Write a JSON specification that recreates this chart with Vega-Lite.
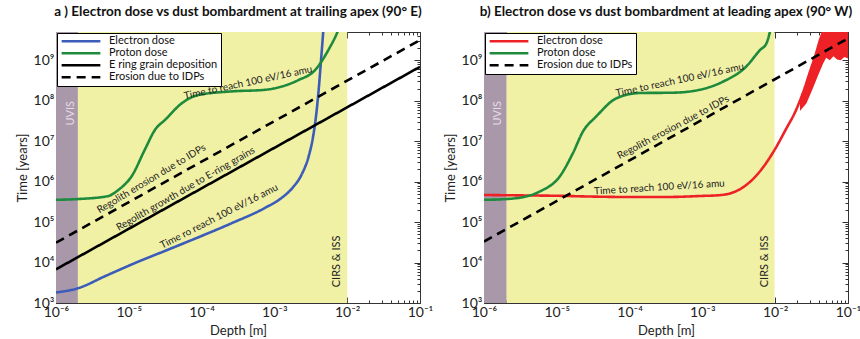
{
  "$schema": "https://vega.github.io/schema/vega-lite/v6.json",
  "background": "white",
  "padding": {"left": 16, "right": 5, "top": 4, "bottom": 2},
  "config": {
    "view": {"stroke": null},
    "axis": {"grid": false, "domainColor": "#333", "tickColor": "#333", "labelColor": "#222", "titleColor": "#222", "labelFont": "Lato", "titleFont": "Lato", "labelFontSize": 14, "titleFontSize": 13, "titleFontWeight": "normal", "labelOverlap": false, "labelFlush": false},
    "legend": {"fillColor": "white", "strokeColor": "black", "padding": 3, "labelFont": "Lato", "labelFontSize": 11, "symbolType": "stroke", "symbolSize": 1500, "symbolStrokeWidth": 2.5, "rowPadding": 0, "clipHeight": 10.5, "offset": 1, "labelLimit": 300, "labelColor": "#111", "labelOffset": 7},
    "title": {"font": "Lato", "fontSize": 13.5, "fontWeight": "bold", "anchor": "middle", "offset": 7, "color": "#111"},
    "text": {"font": "Lato"}
  },
  "datasets": {
    "leftLines": [
      {"series": "Electron dose", "x": 1e-6, "y": 1820},
      {"series": "Electron dose", "x": 2.04e-6, "y": 2340},
      {"series": "Electron dose", "x": 4.68e-6, "y": 4570},
      {"series": "Electron dose", "x": 1.23e-5, "y": 9800},
      {"series": "Electron dose", "x": 3.16e-5, "y": 19500},
      {"series": "Electron dose", "x": 8.91e-5, "y": 41700},
      {"series": "Electron dose", "x": 2.57e-4, "y": 93300},
      {"series": "Electron dose", "x": 7.41e-4, "y": 224000},
      {"series": "Electron dose", "x": 1.26e-3, "y": 398000},
      {"series": "Electron dose", "x": 1.78e-3, "y": 708000},
      {"series": "Electron dose", "x": 2.40e-3, "y": 1580000},
      {"series": "Electron dose", "x": 2.95e-3, "y": 4170000},
      {"series": "Electron dose", "x": 3.39e-3, "y": 12600000},
      {"series": "Electron dose", "x": 3.72e-3, "y": 39800000},
      {"series": "Electron dose", "x": 4.07e-3, "y": 200000000},
      {"series": "Electron dose", "x": 4.37e-3, "y": 1000000000},
      {"series": "Electron dose", "x": 4.68e-3, "y": 5000000000},
      {"series": "Electron dose", "x": 4.9e-3, "y": 16000000000},
      {"series": "Proton dose", "x": 1e-6, "y": 355000},
      {"series": "Proton dose", "x": 2.04e-6, "y": 372000},
      {"series": "Proton dose", "x": 5.13e-6, "y": 437000},
      {"series": "Proton dose", "x": 7.24e-6, "y": 631000},
      {"series": "Proton dose", "x": 1.10e-5, "y": 1380000},
      {"series": "Proton dose", "x": 1.66e-5, "y": 6170000},
      {"series": "Proton dose", "x": 2.29e-5, "y": 19100000},
      {"series": "Proton dose", "x": 3.16e-5, "y": 33900000},
      {"series": "Proton dose", "x": 5.37e-5, "y": 87100000},
      {"series": "Proton dose", "x": 8.91e-5, "y": 138000000},
      {"series": "Proton dose", "x": 2.57e-4, "y": 170000000},
      {"series": "Proton dose", "x": 7.41e-4, "y": 186000000},
      {"series": "Proton dose", "x": 1.26e-3, "y": 224000000},
      {"series": "Proton dose", "x": 2.14e-3, "y": 324000000},
      {"series": "Proton dose", "x": 3.63e-3, "y": 575000000},
      {"series": "Proton dose", "x": 5.50e-3, "y": 1780000000},
      {"series": "Proton dose", "x": 7.24e-3, "y": 4680000000},
      {"series": "Proton dose", "x": 8.9e-3, "y": 12000000000},
      {"series": "E ring grain deposition", "x": 1e-6, "y": 6800},
      {"series": "E ring grain deposition", "x": 0.1, "y": 690000000},
      {"series": "Erosion due to IDPs", "x": 1e-6, "y": 31000},
      {"series": "Erosion due to IDPs", "x": 0.1, "y": 3150000000}
    ],
    "rightLines": [
      {"series": "Electron dose", "x": 1e-6, "y": 468000},
      {"series": "Electron dose", "x": 3.16e-6, "y": 457000},
      {"series": "Electron dose", "x": 1e-5, "y": 447000},
      {"series": "Electron dose", "x": 3.16e-5, "y": 427000},
      {"series": "Electron dose", "x": 1e-4, "y": 417000},
      {"series": "Electron dose", "x": 3.16e-4, "y": 417000},
      {"series": "Electron dose", "x": 1.12e-3, "y": 447000},
      {"series": "Electron dose", "x": 1.58e-3, "y": 457000},
      {"series": "Electron dose", "x": 2.51e-3, "y": 525000},
      {"series": "Electron dose", "x": 3.55e-3, "y": 708000},
      {"series": "Electron dose", "x": 5.50e-3, "y": 1410000},
      {"series": "Electron dose", "x": 9.33e-3, "y": 5250000},
      {"series": "Electron dose", "x": 1.41e-2, "y": 20000000},
      {"series": "Electron dose", "x": 1.91e-2, "y": 56200000},
      {"series": "Electron dose", "x": 2.40e-2, "y": 155000000},
      {"series": "Electron dose", "x": 3.31e-2, "y": 851000000},
      {"series": "Electron dose", "x": 3.80e-2, "y": 1580000000},
      {"series": "Proton dose", "x": 1e-6, "y": 355000},
      {"series": "Proton dose", "x": 2.04e-6, "y": 372000},
      {"series": "Proton dose", "x": 4.0e-6, "y": 440000},
      {"series": "Proton dose", "x": 5.89e-6, "y": 575000},
      {"series": "Proton dose", "x": 1.10e-5, "y": 1350000},
      {"series": "Proton dose", "x": 1.66e-5, "y": 5010000},
      {"series": "Proton dose", "x": 2.29e-5, "y": 17400000},
      {"series": "Proton dose", "x": 3.47e-5, "y": 40700000},
      {"series": "Proton dose", "x": 6.61e-5, "y": 115000000},
      {"series": "Proton dose", "x": 1.38e-4, "y": 155000000},
      {"series": "Proton dose", "x": 3.98e-4, "y": 158000000},
      {"series": "Proton dose", "x": 9.12e-4, "y": 186000000},
      {"series": "Proton dose", "x": 1.91e-3, "y": 295000000},
      {"series": "Proton dose", "x": 3.98e-3, "y": 692000000},
      {"series": "Proton dose", "x": 6.17e-3, "y": 1780000000},
      {"series": "Proton dose", "x": 7.59e-3, "y": 2630000000},
      {"series": "Proton dose", "x": 8.7e-3, "y": 6000000000},
      {"series": "Proton dose", "x": 1e-2, "y": 15000000000},
      {"series": "Erosion due to IDPs", "x": 1e-6, "y": 33000},
      {"series": "Erosion due to IDPs", "x": 0.1, "y": 3470000000}
    ],
    "redBand": [
      {"x": 0.0219, "lo": 56000000, "hi": 100000000},
      {"x": 0.0269, "lo": 87000000, "hi": 310000000},
      {"x": 0.0324, "lo": 190000000, "hi": 930000000},
      {"x": 0.0398, "lo": 470000000, "hi": 3300000000},
      {"x": 0.0457, "lo": 850000000, "hi": 6300000000},
      {"x": 0.0501, "lo": 1150000000, "hi": 6300000000},
      {"x": 0.0562, "lo": 1000000000, "hi": 6300000000},
      {"x": 0.0631, "lo": 1260000000, "hi": 6300000000},
      {"x": 0.0708, "lo": 1050000000, "hi": 6300000000},
      {"x": 0.0794, "lo": 1000000000, "hi": 6300000000},
      {"x": 0.0891, "lo": 1200000000, "hi": 6300000000},
      {"x": 0.1, "lo": 1100000000, "hi": 6300000000}
    ]
  },
  "spacing": 11,
  "hconcat": [
    {
      "width": 364,
      "height": 271,
      "title": "a ) Electron dose vs dust bombardment at trailing apex (90° E)",
      "resolve": {"axis": {"x": "independent", "y": "independent"}},
      "layer": [
        {
          "data": {"values": [{"x0": 1e-6, "x1": 2e-6}]},
          "mark": {"type": "rect", "color": "#a898a9"},
          "encoding": {
            "x": {"field": "x0", "type": "quantitative", "scale": {"type": "log", "domain": [1e-6, 0.1], "nice": false},
              "axis": {"orient": "top", "labels": false, "title": null, "values": [1e-6,2e-6,3e-6,4e-6,5e-6,6e-6,7e-6,8e-6,9e-6,1e-5,2e-5,3e-5,4e-5,5e-5,6e-5,7e-5,8e-5,9e-5,1e-4,2e-4,3e-4,4e-4,5e-4,6e-4,7e-4,8e-4,9e-4,1e-3,2e-3,3e-3,4e-3,5e-3,6e-3,7e-3,8e-3,9e-3,1e-2,2e-2,3e-2,4e-2,5e-2,6e-2,7e-2,8e-2,9e-2,0.1],
                "tickSize": {"condition": {"test": "abs(log(datum.value)/LN10 - round(log(datum.value)/LN10)) < 0.01", "value": -6}, "value": -3}}},
            "x2": {"field": "x1"}
          }
        },
        {
          "data": {"values": [{"x0": 2e-6, "x1": 0.01}]},
          "mark": {"type": "rect", "color": "#f1f1a6"},
          "encoding": {
            "x": {"field": "x0", "type": "quantitative", "scale": {"type": "log", "domain": [1e-6, 0.1], "nice": false}, "axis": null},
            "x2": {"field": "x1"}
          }
        },
        {
          "data": {"name": "leftLines"},
          "mark": {"type": "line", "strokeWidth": 2.6, "clip": true, "strokeCap": "butt", "interpolate": "monotone"},
          "encoding": {
            "x": {"field": "x", "type": "quantitative", "scale": {"type": "log", "domain": [1e-6, 0.1], "nice": false},
              "axis": {"orient": "bottom", "title": "Depth [m]", "titlePadding": 2, "labelPadding": 8, "values": [1e-6,2e-6,3e-6,4e-6,5e-6,6e-6,7e-6,8e-6,9e-6,1e-5,2e-5,3e-5,4e-5,5e-5,6e-5,7e-5,8e-5,9e-5,1e-4,2e-4,3e-4,4e-4,5e-4,6e-4,7e-4,8e-4,9e-4,1e-3,2e-3,3e-3,4e-3,5e-3,6e-3,7e-3,8e-3,9e-3,1e-2,2e-2,3e-2,4e-2,5e-2,6e-2,7e-2,8e-2,9e-2,0.1],
                "labelExpr": "abs(log(datum.value)/LN10 - round(log(datum.value)/LN10)) < 0.01 ? '10' + replace(replace(replace(replace(replace(replace(replace(replace(replace(replace(replace('' + round(log(datum.value)/LN10), '-', '⁻'), '0', '⁰'), '1', '¹'), '2', '²'), '3', '³'), '4', '⁴'), '5', '⁵'), '6', '⁶'), '7', '⁷'), '8', '⁸'), '9', '⁹') : ''",
                "tickSize": {"condition": {"test": "abs(log(datum.value)/LN10 - round(log(datum.value)/LN10)) < 0.01", "value": -6}, "value": -3}}},
            "y": {"field": "y", "type": "quantitative", "scale": {"type": "log", "domain": [1000, 5000000000], "nice": false},
              "axis": {"orient": "left", "title": "Time [years]", "titlePadding": 4, "labelPadding": 8, "values": [1000,2000,3000,4000,5000,6000,7000,8000,9000,10000,20000,30000,40000,50000,60000,70000,80000,90000,100000,200000,300000,400000,500000,600000,700000,800000,900000,1000000,2000000,3000000,4000000,5000000,6000000,7000000,8000000,9000000,10000000,20000000,30000000,40000000,50000000,60000000,70000000,80000000,90000000,100000000,200000000,300000000,400000000,500000000,600000000,700000000,800000000,900000000,1000000000,2000000000,3000000000,4000000000,5000000000],
                "labelExpr": "abs(log(datum.value)/LN10 - round(log(datum.value)/LN10)) < 0.01 ? '10' + replace(replace(replace(replace(replace(replace(replace(replace(replace(replace(replace('' + round(log(datum.value)/LN10), '-', '⁻'), '0', '⁰'), '1', '¹'), '2', '²'), '3', '³'), '4', '⁴'), '5', '⁵'), '6', '⁶'), '7', '⁷'), '8', '⁸'), '9', '⁹') : ''",
                "tickSize": {"condition": {"test": "abs(log(datum.value)/LN10 - round(log(datum.value)/LN10)) < 0.01", "value": -6}, "value": -3}}},
            "color": {"field": "series", "type": "nominal",
              "scale": {"domain": ["Electron dose", "Proton dose", "E ring grain deposition", "Erosion due to IDPs"], "range": ["#3b5cb8", "#1e8a3c", "#000000", "#000000"]},
              "legend": {"orient": "top-left", "title": null}},
            "strokeDash": {"field": "series", "type": "nominal",
              "scale": {"domain": ["Electron dose", "Proton dose", "E ring grain deposition", "Erosion due to IDPs"], "range": [[1, 0], [1, 0], [1, 0], [9, 6]]},
              "legend": {"orient": "top-left", "title": null}}
          }
        },
        {
          "data": {"values": [{"x": 4.37e-4, "y": 280000000, "label": "Time to reach 100 eV/16 amu"}]},
          "mark": {"type": "text", "angle": -12, "fontSize": 10, "color": "#222"},
          "encoding": {
            "x": {"field": "x", "type": "quantitative", "scale": {"type": "log", "domain": [1e-6, 0.1], "nice": false}, "axis": null},
            "y": {"field": "y", "type": "quantitative", "scale": {"type": "log", "domain": [1000, 5000000000], "nice": false},
              "axis": {"orient": "right", "labels": false, "title": null, "values": [1000,2000,3000,4000,5000,6000,7000,8000,9000,10000,20000,30000,40000,50000,60000,70000,80000,90000,100000,200000,300000,400000,500000,600000,700000,800000,900000,1000000,2000000,3000000,4000000,5000000,6000000,7000000,8000000,9000000,10000000,20000000,30000000,40000000,50000000,60000000,70000000,80000000,90000000,100000000,200000000,300000000,400000000,500000000,600000000,700000000,800000000,900000000,1000000000,2000000000,3000000000,4000000000,5000000000],
                "tickSize": {"condition": {"test": "abs(log(datum.value)/LN10 - round(log(datum.value)/LN10)) < 0.01", "value": -6}, "value": -3}}},
            "text": {"field": "label"}
          }
        },
        {
          "data": {"values": [{"x": 2.04e-5, "y": 1170000, "label": "Regolith erosion due to IDPs"}]},
          "mark": {"type": "text", "angle": -31, "fontSize": 10, "color": "#222"},
          "encoding": {
            "x": {"field": "x", "type": "quantitative", "scale": {"type": "log", "domain": [1e-6, 0.1], "nice": false}, "axis": null},
            "y": {"field": "y", "type": "quantitative", "scale": {"type": "log", "domain": [1000, 5000000000], "nice": false}, "axis": null},
            "text": {"field": "label"}
          }
        },
        {
          "data": {"values": [{"x": 6.03e-5, "y": 660000, "label": "Regolith growth due to E-ring grains"}]},
          "mark": {"type": "text", "angle": -30, "fontSize": 10, "color": "#222"},
          "encoding": {
            "x": {"field": "x", "type": "quantitative", "scale": {"type": "log", "domain": [1e-6, 0.1], "nice": false}, "axis": null},
            "y": {"field": "y", "type": "quantitative", "scale": {"type": "log", "domain": [1000, 5000000000], "nice": false}, "axis": null},
            "text": {"field": "label"}
          }
        },
        {
          "data": {"values": [{"x": 1.74e-4, "y": 138000, "label": "Time ro reach 100 eV/16 amu"}]},
          "mark": {"type": "text", "angle": -27, "fontSize": 10, "color": "#222"},
          "encoding": {
            "x": {"field": "x", "type": "quantitative", "scale": {"type": "log", "domain": [1e-6, 0.1], "nice": false}, "axis": null},
            "y": {"field": "y", "type": "quantitative", "scale": {"type": "log", "domain": [1000, 5000000000], "nice": false}, "axis": null},
            "text": {"field": "label"}
          }
        },
        {
          "data": {"values": [{"x": 1.62e-6, "y": 49000000, "label": "UVIS"}]},
          "mark": {"type": "text", "angle": -90, "fontSize": 11, "color": "#e6d8e6"},
          "encoding": {
            "x": {"field": "x", "type": "quantitative", "scale": {"type": "log", "domain": [1e-6, 0.1], "nice": false}, "axis": null},
            "y": {"field": "y", "type": "quantitative", "scale": {"type": "log", "domain": [1000, 5000000000], "nice": false}, "axis": null},
            "text": {"field": "label"}
          }
        },
        {
          "data": {"values": [{"x": 7.24e-3, "y": 10700, "label": "CIRS & ISS"}]},
          "mark": {"type": "text", "angle": -90, "fontSize": 11, "color": "#222"},
          "encoding": {
            "x": {"field": "x", "type": "quantitative", "scale": {"type": "log", "domain": [1e-6, 0.1], "nice": false}, "axis": null},
            "y": {"field": "y", "type": "quantitative", "scale": {"type": "log", "domain": [1000, 5000000000], "nice": false}, "axis": null},
            "text": {"field": "label"}
          }
        }
      ]
    },
    {
      "width": 364,
      "height": 271,
      "title": "b) Electron dose vs dust bombardment at leading apex (90° W)",
      "resolve": {"axis": {"x": "independent", "y": "independent"}},
      "layer": [
        {
          "data": {"values": [{"x0": 1e-6, "x1": 2.05e-6}]},
          "mark": {"type": "rect", "color": "#a898a9"},
          "encoding": {
            "x": {"field": "x0", "type": "quantitative", "scale": {"type": "log", "domain": [1e-6, 0.1], "nice": false},
              "axis": {"orient": "top", "labels": false, "title": null, "values": [1e-6,2e-6,3e-6,4e-6,5e-6,6e-6,7e-6,8e-6,9e-6,1e-5,2e-5,3e-5,4e-5,5e-5,6e-5,7e-5,8e-5,9e-5,1e-4,2e-4,3e-4,4e-4,5e-4,6e-4,7e-4,8e-4,9e-4,1e-3,2e-3,3e-3,4e-3,5e-3,6e-3,7e-3,8e-3,9e-3,1e-2,2e-2,3e-2,4e-2,5e-2,6e-2,7e-2,8e-2,9e-2,0.1],
                "tickSize": {"condition": {"test": "abs(log(datum.value)/LN10 - round(log(datum.value)/LN10)) < 0.01", "value": -6}, "value": -3}}},
            "x2": {"field": "x1"}
          }
        },
        {
          "data": {"values": [{"x0": 2.05e-6, "x1": 0.0098}]},
          "mark": {"type": "rect", "color": "#f1f1a6"},
          "encoding": {
            "x": {"field": "x0", "type": "quantitative", "scale": {"type": "log", "domain": [1e-6, 0.1], "nice": false}, "axis": null},
            "x2": {"field": "x1"}
          }
        },
        {
          "data": {"name": "redBand"},
          "mark": {"type": "area", "color": "#ee2226", "clip": true},
          "encoding": {
            "x": {"field": "x", "type": "quantitative", "scale": {"type": "log", "domain": [1e-6, 0.1], "nice": false}, "axis": null},
            "y": {"field": "lo", "type": "quantitative", "scale": {"type": "log", "domain": [1000, 5000000000], "nice": false}, "axis": null},
            "y2": {"field": "hi"}
          }
        },
        {
          "data": {"name": "rightLines"},
          "mark": {"type": "line", "strokeWidth": 2.6, "clip": true, "strokeCap": "butt", "interpolate": "monotone"},
          "encoding": {
            "x": {"field": "x", "type": "quantitative", "scale": {"type": "log", "domain": [1e-6, 0.1], "nice": false},
              "axis": {"orient": "bottom", "title": "Depth [m]", "titlePadding": 2, "labelPadding": 8, "values": [1e-6,2e-6,3e-6,4e-6,5e-6,6e-6,7e-6,8e-6,9e-6,1e-5,2e-5,3e-5,4e-5,5e-5,6e-5,7e-5,8e-5,9e-5,1e-4,2e-4,3e-4,4e-4,5e-4,6e-4,7e-4,8e-4,9e-4,1e-3,2e-3,3e-3,4e-3,5e-3,6e-3,7e-3,8e-3,9e-3,1e-2,2e-2,3e-2,4e-2,5e-2,6e-2,7e-2,8e-2,9e-2,0.1],
                "labelExpr": "abs(log(datum.value)/LN10 - round(log(datum.value)/LN10)) < 0.01 ? '10' + replace(replace(replace(replace(replace(replace(replace(replace(replace(replace(replace('' + round(log(datum.value)/LN10), '-', '⁻'), '0', '⁰'), '1', '¹'), '2', '²'), '3', '³'), '4', '⁴'), '5', '⁵'), '6', '⁶'), '7', '⁷'), '8', '⁸'), '9', '⁹') : ''",
                "tickSize": {"condition": {"test": "abs(log(datum.value)/LN10 - round(log(datum.value)/LN10)) < 0.01", "value": -6}, "value": -3}}},
            "y": {"field": "y", "type": "quantitative", "scale": {"type": "log", "domain": [1000, 5000000000], "nice": false},
              "axis": {"orient": "left", "title": "Time [years]", "titlePadding": 4, "labelPadding": 8, "values": [1000,2000,3000,4000,5000,6000,7000,8000,9000,10000,20000,30000,40000,50000,60000,70000,80000,90000,100000,200000,300000,400000,500000,600000,700000,800000,900000,1000000,2000000,3000000,4000000,5000000,6000000,7000000,8000000,9000000,10000000,20000000,30000000,40000000,50000000,60000000,70000000,80000000,90000000,100000000,200000000,300000000,400000000,500000000,600000000,700000000,800000000,900000000,1000000000,2000000000,3000000000,4000000000,5000000000],
                "labelExpr": "abs(log(datum.value)/LN10 - round(log(datum.value)/LN10)) < 0.01 ? '10' + replace(replace(replace(replace(replace(replace(replace(replace(replace(replace(replace('' + round(log(datum.value)/LN10), '-', '⁻'), '0', '⁰'), '1', '¹'), '2', '²'), '3', '³'), '4', '⁴'), '5', '⁵'), '6', '⁶'), '7', '⁷'), '8', '⁸'), '9', '⁹') : ''",
                "tickSize": {"condition": {"test": "abs(log(datum.value)/LN10 - round(log(datum.value)/LN10)) < 0.01", "value": -6}, "value": -3}}},
            "color": {"field": "series", "type": "nominal",
              "scale": {"domain": ["Electron dose", "Proton dose", "Erosion due to IDPs"], "range": ["#ee2226", "#1e8a3c", "#000000"]},
              "legend": {"orient": "top-left", "title": null}},
            "strokeDash": {"field": "series", "type": "nominal",
              "scale": {"domain": ["Electron dose", "Proton dose", "Erosion due to IDPs"], "range": [[1, 0], [1, 0], [9, 6]]},
              "legend": {"orient": "top-left", "title": null}}
          }
        },
        {
          "data": {"values": [{"x": 4.9e-4, "y": 324000000, "label": "Time to reach 100 eV/16 amu"}]},
          "mark": {"type": "text", "angle": -12, "fontSize": 10, "color": "#222"},
          "encoding": {
            "x": {"field": "x", "type": "quantitative", "scale": {"type": "log", "domain": [1e-6, 0.1], "nice": false}, "axis": null},
            "y": {"field": "y", "type": "quantitative", "scale": {"type": "log", "domain": [1000, 5000000000], "nice": false},
              "axis": {"orient": "right", "labels": false, "title": null, "values": [1000,2000,3000,4000,5000,6000,7000,8000,9000,10000,20000,30000,40000,50000,60000,70000,80000,90000,100000,200000,300000,400000,500000,600000,700000,800000,900000,1000000,2000000,3000000,4000000,5000000,6000000,7000000,8000000,9000000,10000000,20000000,30000000,40000000,50000000,60000000,70000000,80000000,90000000,100000000,200000000,300000000,400000000,500000000,600000000,700000000,800000000,900000000,1000000000,2000000000,3000000000,4000000000,5000000000],
                "tickSize": {"condition": {"test": "abs(log(datum.value)/LN10 - round(log(datum.value)/LN10)) < 0.01", "value": -6}, "value": -3}}},
            "text": {"field": "label"}
          }
        },
        {
          "data": {"values": [{"x": 3.98e-4, "y": 21900000, "label": "Regolith erosion due to IDPs"}]},
          "mark": {"type": "text", "angle": -28, "fontSize": 10, "color": "#222"},
          "encoding": {
            "x": {"field": "x", "type": "quantitative", "scale": {"type": "log", "domain": [1e-6, 0.1], "nice": false}, "axis": null},
            "y": {"field": "y", "type": "quantitative", "scale": {"type": "log", "domain": [1000, 5000000000], "nice": false}, "axis": null},
            "text": {"field": "label"}
          }
        },
        {
          "data": {"values": [{"x": 2.57e-4, "y": 720000, "label": "Time to reach 100 eV/16 amu"}]},
          "mark": {"type": "text", "angle": -3.5, "fontSize": 10, "color": "#222"},
          "encoding": {
            "x": {"field": "x", "type": "quantitative", "scale": {"type": "log", "domain": [1e-6, 0.1], "nice": false}, "axis": null},
            "y": {"field": "y", "type": "quantitative", "scale": {"type": "log", "domain": [1000, 5000000000], "nice": false}, "axis": null},
            "text": {"field": "label"}
          }
        },
        {
          "data": {"values": [{"x": 1.55e-6, "y": 49000000, "label": "UVIS"}]},
          "mark": {"type": "text", "angle": -90, "fontSize": 11, "color": "#e6d8e6"},
          "encoding": {
            "x": {"field": "x", "type": "quantitative", "scale": {"type": "log", "domain": [1e-6, 0.1], "nice": false}, "axis": null},
            "y": {"field": "y", "type": "quantitative", "scale": {"type": "log", "domain": [1000, 5000000000], "nice": false}, "axis": null},
            "text": {"field": "label"}
          }
        },
        {
          "data": {"values": [{"x": 7.24e-3, "y": 10700, "label": "CIRS & ISS"}]},
          "mark": {"type": "text", "angle": -90, "fontSize": 11, "color": "#222"},
          "encoding": {
            "x": {"field": "x", "type": "quantitative", "scale": {"type": "log", "domain": [1e-6, 0.1], "nice": false}, "axis": null},
            "y": {"field": "y", "type": "quantitative", "scale": {"type": "log", "domain": [1000, 5000000000], "nice": false}, "axis": null},
            "text": {"field": "label"}
          }
        }
      ]
    }
  ],
  "resolve": {"scale": {"color": "independent", "strokeDash": "independent"}}
}
